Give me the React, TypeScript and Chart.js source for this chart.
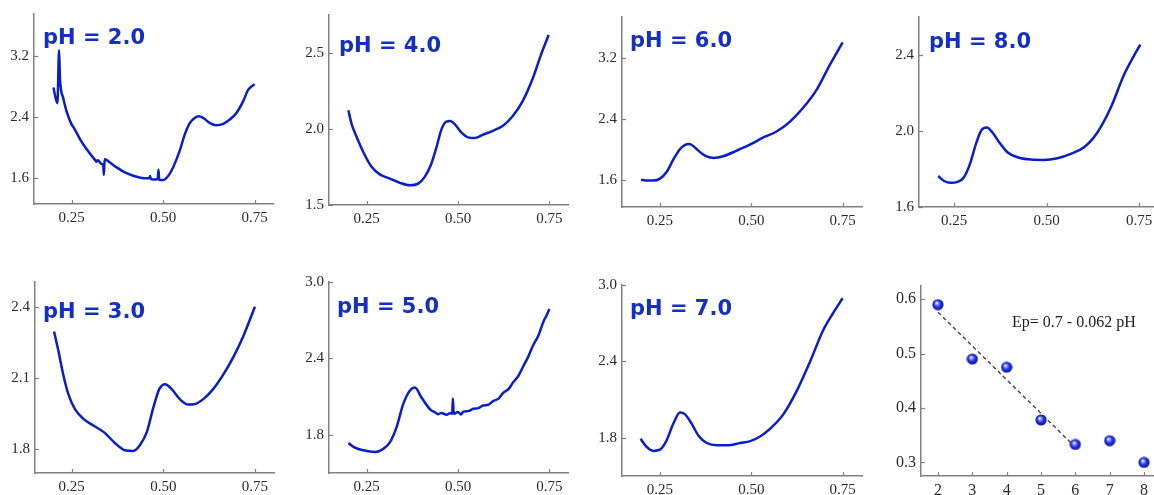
import React, { useEffect, useRef } from "react";
import { Chart, registerables } from "chart.js";

Chart.register(...registerables);

// ---- Voltammograms: potential (V) vs. current, one pair of arrays per pH ----
const potentialPH2 = [0.200, 0.211, 0.2155, 0.218, 0.227, 0.236, 0.250, 0.256, 0.273, 0.291, 0.314, 0.318, 0.321, 0.332, 0.336, 0.338, 0.340, 0.3545, 0.373, 0.395, 0.418, 0.441, 0.462, 0.464, 0.466, 0.473, 0.485, 0.487, 0.489, 0.491, 0.500, 0.514, 0.527, 0.545, 0.559, 0.573, 0.586, 0.598, 0.609, 0.627, 0.645, 0.664, 0.682, 0.700, 0.718, 0.732, 0.741, 0.750];
const currentPH2 = [2.783, 2.58, 3.27, 2.90, 2.645, 2.473, 2.30, 2.258, 2.108, 1.978, 1.837, 1.815, 1.835, 1.785, 1.78, 1.647, 1.85, 1.806, 1.742, 1.677, 1.634, 1.604, 1.60, 1.63, 1.595, 1.583, 1.59, 1.71, 1.585, 1.578, 1.578, 1.634, 1.742, 1.957, 2.172, 2.323, 2.387, 2.409, 2.387, 2.323, 2.292, 2.31, 2.366, 2.452, 2.60, 2.753, 2.796, 2.826];

const potentialPH4 = [0.200, 0.209, 0.223, 0.241, 0.264, 0.286, 0.314, 0.341, 0.368, 0.391, 0.409, 0.427, 0.441, 0.455, 0.468, 0.479, 0.491, 0.509, 0.527, 0.545, 0.568, 0.595, 0.623, 0.650, 0.677, 0.705, 0.727, 0.748];
const currentPH4 = [2.124, 2.033, 1.946, 1.848, 1.750, 1.702, 1.674, 1.646, 1.630, 1.641, 1.685, 1.772, 1.880, 2.000, 2.050, 2.054, 2.033, 1.978, 1.946, 1.941, 1.963, 1.989, 2.022, 2.087, 2.185, 2.337, 2.489, 2.620];

const potentialPH6 = [0.198, 0.2135, 0.232, 0.250, 0.268, 0.286, 0.305, 0.318, 0.328, 0.338, 0.355, 0.373, 0.396, 0.423, 0.460, 0.496, 0.533, 0.569, 0.606, 0.642, 0.679, 0.715, 0.750];
const currentPH6 = [1.609, 1.596, 1.596, 1.622, 1.708, 1.868, 2.011, 2.060, 2.075, 2.060, 1.989, 1.924, 1.894, 1.916, 1.989, 2.067, 2.162, 2.240, 2.370, 2.551, 2.789, 3.114, 3.408];

const potentialPH8 = [0.207, 0.223, 0.241, 0.259, 0.277, 0.293, 0.309, 0.324, 0.338, 0.3535, 0.372, 0.394, 0.421, 0.457, 0.493, 0.529, 0.565, 0.601, 0.637, 0.673, 0.709, 0.735, 0.753];
const currentPH8 = [1.763, 1.737, 1.727, 1.732, 1.758, 1.828, 1.932, 2.005, 2.018, 1.992, 1.940, 1.888, 1.862, 1.850, 1.848, 1.857, 1.880, 1.914, 1.992, 2.122, 2.296, 2.393, 2.455];

const potentialPH3 = [0.202, 0.214, 0.227, 0.241, 0.259, 0.282, 0.309, 0.341, 0.368, 0.395, 0.418, 0.436, 0.455, 0.473, 0.489, 0.505, 0.523, 0.545, 0.568, 0.586, 0.609, 0.636, 0.664, 0.691, 0.718, 0.750];
const currentPH3 = [2.296, 2.213, 2.115, 2.032, 1.969, 1.928, 1.900, 1.868, 1.826, 1.796, 1.793, 1.817, 1.872, 1.976, 2.053, 2.074, 2.053, 2.011, 1.988, 1.990, 2.011, 2.053, 2.115, 2.188, 2.275, 2.400];

const potentialPH5 = [0.200, 0.218, 0.241, 0.273, 0.296, 0.314, 0.332, 0.350, 0.369, 0.382, 0.400, 0.423, 0.438, 0.446, 0.455, 0.469, 0.478, 0.484, 0.486, 0.488, 0.490, 0.500, 0.508, 0.515, 0.528, 0.542, 0.556, 0.569, 0.583, 0.597, 0.610, 0.624, 0.638, 0.651, 0.665, 0.679, 0.692, 0.706, 0.720, 0.734, 0.742, 0.750];
const currentPH5 = [1.735, 1.699, 1.678, 1.665, 1.691, 1.743, 1.860, 2.041, 2.150, 2.171, 2.093, 2.002, 1.975, 1.962, 1.972, 1.958, 1.970, 1.966, 2.085, 1.975, 1.965, 1.980, 1.960, 1.982, 1.986, 2.004, 2.010, 2.030, 2.036, 2.066, 2.082, 2.130, 2.158, 2.212, 2.262, 2.340, 2.412, 2.505, 2.580, 2.690, 2.735, 2.788];

const potentialPH7 = [0.197, 0.2135, 0.232, 0.250, 0.268, 0.286, 0.305, 0.318, 0.337, 0.355, 0.378, 0.405, 0.437, 0.469, 0.497, 0.524, 0.551, 0.588, 0.624, 0.661, 0.697, 0.724, 0.750];
const currentPH7 = [1.792, 1.728, 1.697, 1.707, 1.779, 1.909, 1.999, 1.986, 1.909, 1.818, 1.759, 1.741, 1.741, 1.759, 1.774, 1.810, 1.870, 1.986, 2.167, 2.400, 2.646, 2.780, 2.896];

// ---- Peak potential vs. pH ----
const phValues = [2, 3, 4, 5, 6, 7, 8];
const peakPotential = [0.59, 0.49, 0.475, 0.378, 0.333, 0.34, 0.30];
const fitIntercept = 0.7;
const fitSlope = -0.062;
const fitPhRange = [2, 6];
const fitLabel = "Ep= 0.7 - 0.062 pH";

// ---- Tick values ----
const potentialTicks = [0.25, 0.5, 0.75];
const ticksPH2 = [1.6, 2.4, 3.2];
const ticksPH4 = [1.5, 2.0, 2.5];
const ticksPH6 = [1.6, 2.4, 3.2];
const ticksPH8 = [1.6, 2.0, 2.4];
const ticksPH3 = [1.8, 2.1, 2.4];
const ticksPH5 = [1.8, 2.4, 3.0];
const ticksPH7 = [1.8, 2.4, 3.0];
const phTicks = [2, 3, 4, 5, 6, 7, 8];
const peakTicks = [0.3, 0.4, 0.5, 0.6];

const LINE_BLUE = "#0a1ec8";
const TITLE_BLUE = "#1430c4";
const AXIS_GREY = "#808080";
const TICK_TEXT = "#2a2a2a";
const SERIF = "'Liberation Serif', 'Times New Roman', serif";

const PAD_L = 50;
const PAD_T = 12;
const PAD_R = 16;
const PAD_B = 30;

type PanelSpec = {
  title?: string;
  xs: number[];
  ys: number[];
  box: [number, number, number, number]; // left, top, right, bottom of plot area
  xRange: [number, number];
  yRange: [number, number];
  xTicks: number[];
  yTicks: number[];
  xDigits: number;
  yDigits: number;
  titleAt?: [number, number];
  scatter?: boolean;
  fontSize?: number;
};

const PANELS: PanelSpec[] = [
  { title: "pH = 2.0", xs: potentialPH2, ys: currentPH2, box: [34, 12, 273, 204], xRange: [0.147, 0.8], yRange: [1.265, 3.742], xTicks: potentialTicks, yTicks: ticksPH2, xDigits: 2, yDigits: 1, titleAt: [43, 42] },
  { title: "pH = 4.0", xs: potentialPH4, ys: currentPH4, box: [329, 13, 568, 205], xRange: [0.147, 0.801], yRange: [1.5, 2.752], xTicks: potentialTicks, yTicks: ticksPH4, xDigits: 2, yDigits: 1, titleAt: [339, 50] },
  { title: "pH = 6.0", xs: potentialPH6, ys: currentPH6, box: [622, 15, 862, 207], xRange: [0.146, 0.803], yRange: [1.25, 3.741], xTicks: potentialTicks, yTicks: ticksPH6, xDigits: 2, yDigits: 1, titleAt: [630, 45] },
  { title: "pH = 8.0", xs: potentialPH8, ys: currentPH8, box: [919, 15, 1154, 207], xRange: [0.155, 0.79], yRange: [1.6, 2.6], xTicks: potentialTicks, yTicks: ticksPH8, xDigits: 2, yDigits: 1, titleAt: [929, 46] },
  { title: "pH = 3.0", xs: potentialPH3, ys: currentPH3, box: [35, 280, 274, 473], xRange: [0.15, 0.802], yRange: [1.7, 2.504], xTicks: potentialTicks, yTicks: ticksPH3, xDigits: 2, yDigits: 1, titleAt: [43, 316] },
  { title: "pH = 5.0", xs: potentialPH5, ys: currentPH5, box: [329, 280, 568, 473], xRange: [0.147, 0.801], yRange: [1.5, 3.0], xTicks: potentialTicks, yTicks: ticksPH5, xDigits: 2, yDigits: 1, titleAt: [337, 311] },
  { title: "pH = 7.0", xs: potentialPH7, ys: currentPH7, box: [622, 283, 862, 476], xRange: [0.146, 0.803], yRange: [1.5, 3.0], xTicks: potentialTicks, yTicks: ticksPH7, xDigits: 2, yDigits: 1, titleAt: [630, 313] },
  { xs: phValues, ys: peakPotential, box: [921, 283, 1154, 476], xRange: [1.505, 8.29], yRange: [0.275, 0.625], xTicks: phTicks, yTicks: peakTicks, xDigits: 0, yDigits: 1, scatter: true, fontSize: 16 },
];

// Short tick marks pointing into the plot area
const innerTicks = {
  id: "innerTicks",
  afterDraw(chart: any) {
    const { ctx, chartArea, scales } = chart;
    ctx.save();
    ctx.strokeStyle = AXIS_GREY;
    ctx.lineWidth = 1.2;
    for (const t of scales.x.ticks) {
      const px = Math.round(scales.x.getPixelForValue(t.value)) + 0.5;
      ctx.beginPath();
      ctx.moveTo(px, chartArea.bottom);
      ctx.lineTo(px, chartArea.bottom - 4);
      ctx.stroke();
    }
    for (const t of scales.y.ticks) {
      const py = Math.round(scales.y.getPixelForValue(t.value)) + 0.5;
      ctx.beginPath();
      ctx.moveTo(chartArea.left, py);
      ctx.lineTo(chartArea.left + 4, py);
      ctx.stroke();
    }
    ctx.restore();
  },
};

// Free text placed relative to the plot area
const textLabel = {
  id: "textLabel",
  afterDraw(chart: any, _args: any, opts: any) {
    if (!opts || !opts.text) return;
    const { ctx, chartArea } = chart;
    ctx.save();
    ctx.font = opts.font;
    ctx.fillStyle = opts.color;
    ctx.textAlign = "left";
    ctx.textBaseline = "alphabetic";
    ctx.fillText(opts.text, chartArea.left + opts.dx, chartArea.top + opts.dy);
    ctx.restore();
  },
};

function makeBall(): HTMLCanvasElement {
  const c = document.createElement("canvas");
  c.width = 12;
  c.height = 12;
  const g = c.getContext("2d")!;
  const grad = g.createRadialGradient(4.6, 4.2, 0.3, 6, 6, 6);
  grad.addColorStop(0, "#ffffff");
  grad.addColorStop(0.2, "#8f9bff");
  grad.addColorStop(0.55, "#1f30e6");
  grad.addColorStop(1, "#0a138c");
  g.fillStyle = grad;
  g.beginPath();
  g.arc(6, 6, 5.6, 0, Math.PI * 2);
  g.fill();
  return c;
}

function PanelChart({ spec }: { spec: PanelSpec }) {
  const ref = useRef<HTMLCanvasElement>(null);
  const [l, t, r, b] = spec.box;
  const width = r - l + PAD_L + PAD_R;
  const height = b - t + PAD_T + PAD_B;

  useEffect(() => {
    const fontSize = spec.fontSize ?? 15;
    const tickFont = { family: SERIF, size: fontSize };
    const points = spec.xs.map((x, i) => ({ x, y: spec.ys[i] }));

    const datasets: any[] = [];
    if (spec.scatter) {
      datasets.push({
        type: "scatter",
        data: points,
        pointStyle: makeBall(),
        pointRadius: 6,
        order: 0,
      });
      datasets.push({
        type: "line",
        data: fitPhRange.map((x) => ({ x, y: fitIntercept + fitSlope * x })),
        borderColor: "#444444",
        borderWidth: 1.4,
        borderDash: [4, 3],
        pointRadius: 0,
        fill: false,
        order: 1,
      });
    } else {
      datasets.push({
        type: "line",
        data: points,
        borderColor: LINE_BLUE,
        borderWidth: 2.5,
        pointRadius: 0,
        cubicInterpolationMode: "monotone",
        fill: false,
      });
    }

    const labelOpts = spec.scatter
      ? { text: fitLabel, font: `16px ${SERIF}`, color: "#222222", dx: 1012 - l, dy: 324 - t }
      : { text: spec.title, font: `bold 21px 'DejaVu Sans', sans-serif`, color: TITLE_BLUE, dx: spec.titleAt![0] - l, dy: spec.titleAt![1] - t };

    const chart = new Chart(ref.current!, {
      type: "line",
      data: { datasets },
      plugins: [innerTicks, textLabel],
      options: {
        responsive: false,
        animation: false,
        devicePixelRatio: 1,
        layout: { padding: { left: 0, top: PAD_T, right: PAD_R, bottom: 0 } },
        plugins: {
          legend: { display: false },
          tooltip: { enabled: false },
          title: { display: false },
          textLabel: labelOpts,
        } as any,
        scales: {
          x: {
            type: "linear",
            min: spec.xRange[0],
            max: spec.xRange[1],
            afterBuildTicks: (s: any) => {
              s.ticks = spec.xTicks.map((v) => ({ value: v }));
            },
            afterFit: (s: any) => {
              s.height = PAD_B;
            },
            ticks: {
              font: tickFont,
              color: TICK_TEXT,
              padding: 5,
              maxRotation: 0,
              autoSkip: false,
              callback: (v: any) => Number(v).toFixed(spec.xDigits),
            },
            grid: { display: true, drawOnChartArea: false, drawTicks: false },
            border: { display: true, color: AXIS_GREY, width: 1.5 },
          },
          y: {
            type: "linear",
            min: spec.yRange[0],
            max: spec.yRange[1],
            afterBuildTicks: (s: any) => {
              s.ticks = spec.yTicks.map((v) => ({ value: v }));
            },
            afterFit: (s: any) => {
              s.width = PAD_L;
            },
            ticks: {
              font: tickFont,
              color: TICK_TEXT,
              padding: 5,
              autoSkip: false,
              callback: (v: any) => Number(v).toFixed(spec.yDigits),
            },
            grid: { display: true, drawOnChartArea: false, drawTicks: false },
            border: { display: true, color: AXIS_GREY, width: 1.5 },
          },
        },
      } as any,
    });
    return () => chart.destroy();
  }, []);

  return (
    <canvas
      ref={ref}
      width={width}
      height={height}
      style={{ position: "absolute", left: l - PAD_L, top: t - PAD_T, width, height }}
    />
  );
}

export default function App() {
  return (
    <div
      style={{
        position: "absolute",
        left: 0,
        top: 0,
        width: 1154,
        height: 495,
        overflow: "hidden",
        background: "#ffffff",
      }}
    >
      {PANELS.map((p, i) => (
        <PanelChart key={i} spec={p} />
      ))}
    </div>
  );
}
